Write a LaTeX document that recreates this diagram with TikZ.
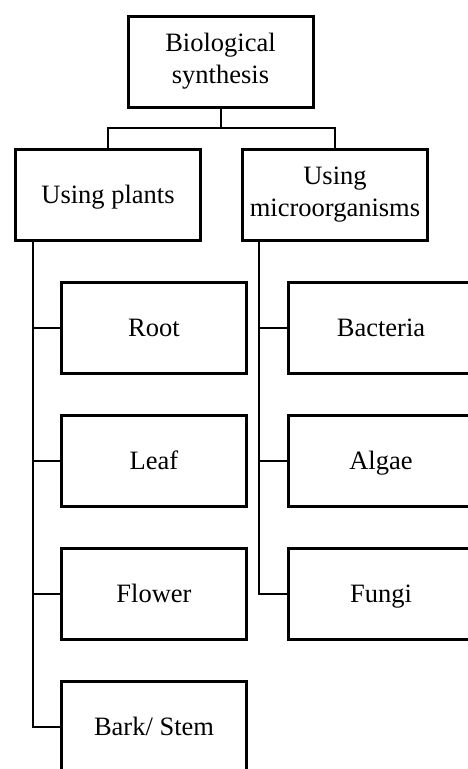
\documentclass[tikz,border=0pt]{standalone}
\usepackage{fontspec}
\setmainfont{Liberation Serif}
\usetikzlibrary{positioning}
\tikzset{
  box/.style={draw,line width=3pt,align=center,minimum width=185pt,minimum height=91pt,inner sep=2pt,fill=white},
  part/.style={box,text height=17.5pt,text depth=0pt},
  conn/.style={line width=2pt}
}

\begin{document}
\begin{tikzpicture}[node distance=39pt,font=\fontsize{26.5}{32}\selectfont]
\useasboundingbox (0,0) rectangle (468pt,-769pt);
\clip (0,0) rectangle (468pt,-769pt);
\node[box] (top) at (220.5pt,-61.5pt) {Biological\\synthesis};
\node[part,below=of top,xshift=-112.5pt] (plants) {Using plants};
\node[box,right=of plants] (micro) {Using\\microorganisms};
% plant parts
\node[part,below=of plants,xshift=46pt] (root) {Root};
\node[part,below=of root] (leaf) {Leaf};
\node[part,below=of leaf] (flower) {Flower};
\node[part,below=of flower] (bark) {Bark/ Stem};
% microorganisms
\node[part,below=of micro,xshift=46pt] (bact) {Bacteria};
\node[part,below=of bact] (algae) {Algae};
\node[part,below=of algae] (fungi) {Fungi};
\coordinate (lt) at ([xshift=19pt]plants.south west);
\coordinate (rt) at ([xshift=18pt]micro.south west);
\draw[conn] (top.south) -- ++(0,-19.5pt) -| (plants.north);
\draw[conn] (top.south) -- ++(0,-19.5pt) -| (micro.north);
\draw[conn] (lt) |- (bark.west);
\foreach \n in {root,leaf,flower} \draw[conn] (lt |- \n.west) -- (\n.west);
\draw[conn] (rt) |- (fungi.west);
\foreach \n in {bact,algae} \draw[conn] (rt |- \n.west) -- (\n.west);
\end{tikzpicture}
\end{document}
